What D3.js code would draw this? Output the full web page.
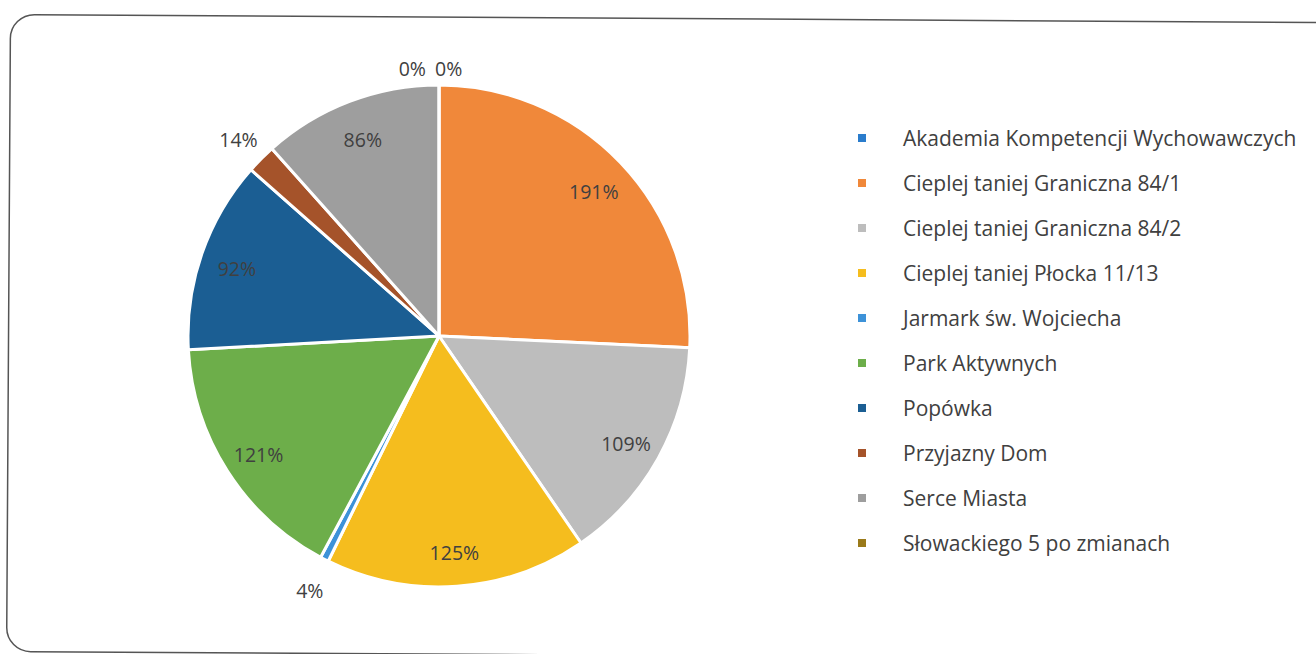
<!DOCTYPE html>
<html><head><meta charset="utf-8">
<script src="https://cdn.jsdelivr.net/npm/d3@7"></script>
<style>body{margin:0;background:#fff;} svg{display:block;}</style>
</head><body>
<svg id="c" width="1316" height="654"></svg>
<script>
const categories = ["Akademia Kompetencji Wychowawczych","Cieplej taniej Graniczna 84/1","Cieplej taniej Graniczna 84/2","Cieplej taniej Płocka 11/13","Jarmark św. Wojciecha","Park Aktywnych","Popówka","Przyjazny Dom","Serce Miasta","Słowackiego 5 po zmianach"];
const values = [0, 191, 109, 125, 4, 121, 92, 14, 86, 0];
const labels = ["0%","191%","109%","125%","4%","121%","92%","14%","86%","0%"];
const colors = ["#2a7ccc","#f0883a","#bdbdbd","#f5bd1e","#3d92d8","#6dae4a","#1b5e93","#a5532a","#9e9e9e","#9a7a1a"];

const svg = d3.select("#c");
svg.append("rect").attr("x",10.5).attr("y",14.5).attr("width",1340).attr("height",637)
  .attr("rx",24).attr("fill","none").attr("stroke","#555").attr("stroke-width",1.5)
  .attr("transform","rotate(0.35 10 14)");

const cx = 439, cy = 336, R = 251;
const g = svg.append("g").attr("transform",`translate(${cx},${cy})`);
const pie = d3.pie().sort(null).value(d=>d);
const arcs = pie(values);
const arc = d3.arc().innerRadius(0).outerRadius(R);
g.selectAll("path").data(arcs).join("path")
  .attr("d",arc).attr("fill",(d,i)=>colors[i])
  .attr("stroke","#fff").attr("stroke-width",3).attr("stroke-linejoin","round");

const inArc = d3.arc().innerRadius(214).outerRadius(214);
const outArc = d3.arc().innerRadius(283).outerRadius(283);
const font = "'Open Sans', sans-serif";
g.selectAll("text.lbl").data(arcs).join("text").attr("class","lbl")
  .attr("font-family",font).attr("font-size",19.5).attr("fill","#404040")
  .attr("dominant-baseline","central")
  .attr("text-anchor",(d,i)=> d.value===0 ? (i===0?"start":"end") : "middle")
  .attr("transform",(d,i)=>{
    const frac = d.value/d3.sum(values);
    let p;
    if (d.value===0) { p = d3.arc().innerRadius(271).outerRadius(271).centroid(d); p[0] += (i===0? -4 : -13); }
    else if (frac < 0.03) p = outArc.centroid(d);
    else p = inArc.centroid(d);
    return `translate(${p[0]},${p[1]+3})`;
  })
  .text((d,i)=>labels[i]);

const leg = svg.append("g");
const rows = leg.selectAll("g").data(categories).join("g")
  .attr("transform",(d,i)=>`translate(858,${138+i*45})`);
rows.append("rect").attr("x",0).attr("y",-4).attr("width",8).attr("height",8).attr("fill",(d,i)=>colors[i]);
rows.append("text").attr("x",45).attr("y",0).attr("dominant-baseline","central")
  .attr("font-family",font).attr("font-size",21).attr("fill","#404040").text(d=>d);
</script>
</body></html>
